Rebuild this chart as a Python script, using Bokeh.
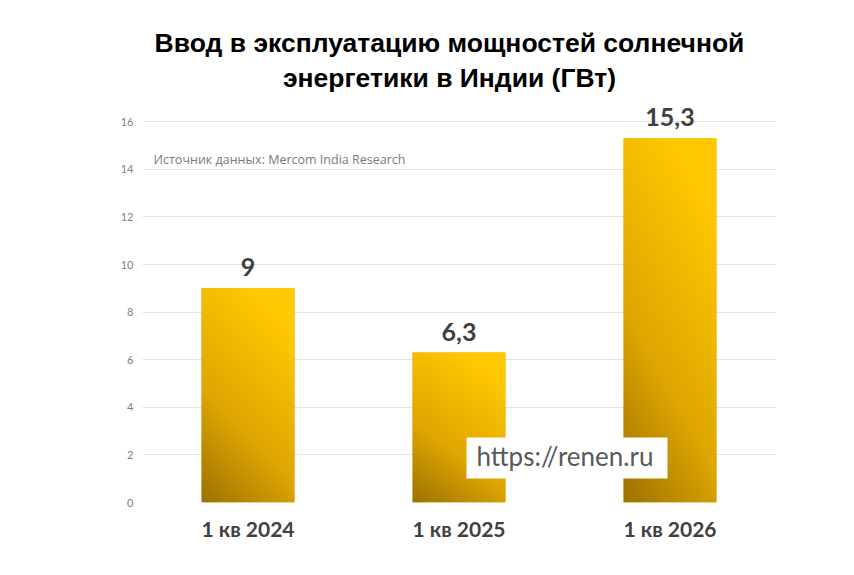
import numpy as np
from bokeh.plotting import figure
from bokeh.models import Range1d, FixedTicker
from bokeh.core.properties import value
from bokeh.embed import file_html
from bokeh.resources import INLINE

# ---- data ----
categories = ["1 кв 2024", "1 кв 2025", "1 кв 2026"]
values = [9.0, 6.3, 15.3]
value_labels = ["9", "6,3", "15,3"]
y_ticks = [0, 2, 4, 6, 8, 10, 12, 14, 16]
title_lines = ["Ввод в эксплуатацию мощностей солнечной", "энергетики в Индии (ГВт)"]
source_text = "Источник данных: Mercom India Research"
watermark = "https://renen.ru"

PX = 23.8  # pixels per y unit
W, H = 838, 559
MB_L, MB_R, MB_T, MB_B = 142, 63, 0, 57
FRAME_B = H - MB_B
y_top = (H - MB_T - MB_B) / PX

p = figure(width=W, height=H, output_backend="svg", toolbar_location=None,
           x_range=Range1d(-0.5, 2.5), y_range=Range1d(0, y_top),
           min_border_left=MB_L, min_border_right=MB_R,
           min_border_top=MB_T, min_border_bottom=MB_B)
p.outline_line_color = None
p.background_fill_color = "white"
p.border_fill_color = "white"

# grid
p.xgrid.grid_line_color = None
p.ygrid.grid_line_color = "#e3e3e3"
p.ygrid.grid_line_width = 1
p.yaxis.ticker = FixedTicker(ticks=y_ticks)
p.xaxis.ticker = FixedTicker(ticks=list(range(len(categories))))
p.xaxis.major_label_overrides = {i: c for i, c in enumerate(categories)}

for ax in (p.xaxis, p.yaxis):
    ax.axis_line_color = None
    ax.major_tick_line_color = None
    ax.minor_tick_line_color = None
    ax.major_tick_out = 0
    ax.major_tick_in = 0

p.yaxis.major_label_text_font = "Lato"
p.yaxis.major_label_text_font_size = "11px"
p.yaxis.major_label_text_color = "#808080"
p.yaxis.major_label_standoff = 9

p.xaxis.major_label_text_font = "Lato"
p.xaxis.major_label_text_font_style = "bold"
p.xaxis.major_label_text_font_size = "21px"
p.xaxis.major_label_text_color = "#404040"
p.xaxis.major_label_standoff = 13

# bars: base + gradient image
bw = 0.44
xs = list(range(len(categories)))
p.vbar(x=xs, top=values, width=bw, bottom=0, fill_color="#E0A800", line_color=None)

stops_t = np.array([0.0, 0.45, 1.0])
stops_c = np.array([[0x98, 0x6E, 0x00], [0xDE, 0xA6, 0x00], [0xFF, 0xC8, 0x00]], dtype=float)

def grad_image(h_units):
    rows = max(int(h_units * PX), 2)
    cols = 93
    v = np.linspace(0, 1, rows)[:, None]
    u = np.linspace(0, 1, cols)[None, :]
    t = np.clip(0.8 * v + 0.36 * u + 0.03, 0, 1)
    img = np.zeros((rows, cols, 4), dtype=np.uint8)
    for k in range(3):
        img[..., k] = np.interp(t, stops_t, stops_c[:, k]).astype(np.uint8)
    img[..., 3] = 255
    return img.view(dtype=np.uint32).reshape(rows, cols)

for x, v in zip(xs, values):
    p.image_rgba(image=[grad_image(v)], x=x - bw / 2, y=0, dw=bw, dh=v)

# helpers for page-pixel -> data (with baseline correction for font size)
def dx(px):
    return (px - MB_L) / 211 - 0.5

def dy(py, fs=0):
    return (FRAME_B - py + 0.4 * fs) / PX

# value labels (baseline ~12px above bar top)
p.text(x=xs, y=[v + (11 + 0.4 * 25) / PX for v in values], text=value_labels,
       text_font=value("Lato"), text_font_style="bold", text_font_size="25px",
       text_color="#404040", text_align="center", text_baseline="alphabetic")

# title
p.text(x=[dx(449)] * 2, y=[dy(53, 26.5), dy(88, 26.5)], text=title_lines,
       text_font=value("Liberation Sans"), text_font_style="bold",
       text_font_size="26.5px", text_color="#000000",
       text_align="center", text_baseline="alphabetic")

# source
p.text(x=[dx(153)], y=[dy(164, 12.5)], text=[source_text],
       text_font=value("Open Sans"), text_font_size="12.5px", text_color="#7a7a7a",
       text_align="left", text_baseline="alphabetic")

# watermark
p.quad(left=[dx(466)], right=[dx(667)], bottom=[dy(478)], top=[dy(437)],
       fill_color="white", line_color=None)
p.text(x=[dx(476)], y=[dy(466, 26)], text=[watermark],
       text_font=value("Lato"), text_font_size="26px", text_color="#595959",
       text_align="left", text_baseline="alphabetic")

open("out.html", "w").write(file_html(p, INLINE))
